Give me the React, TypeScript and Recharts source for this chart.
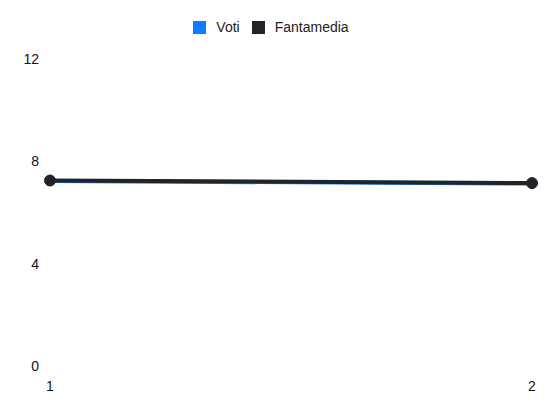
import React from 'react';
import { LineChart, Line, XAxis, YAxis, Legend } from 'recharts';

const giornate = ['1', '2'];
const voti = [7.23, 7.13];
const fantamedia = [7.25, 7.15];
const yTicks = [0, 4, 8, 12];
const series = [
	{ key: 'voti', name: 'Voti', color: '#0a7cff' },
	{ key: 'fantamedia', name: 'Fantamedia', color: '#212529' },
];

const data = giornate.map((g, i) => ({ giornata: g, voti: voti[i], fantamedia: fantamedia[i] }));

function LegendContent() {
	return (
		<div style={{ display: 'flex', justifyContent: 'center', gap: 12, fontSize: 14, color: '#222' }}>
			{series.map((s) => (
				<div key={s.key} style={{ display: 'flex', alignItems: 'center' }}>
					<span style={{ width: 13, height: 13, background: s.color, display: 'inline-block', marginRight: 10 }} />
					<span>{s.name}</span>
				</div>
			))}
		</div>
	);
}

export default function App() {
	return (
		<div style={{ position: 'absolute', top: 0, left: 0, fontFamily: '"Liberation Sans", Arial, sans-serif' }}>
			<LineChart width={550} height={412} data={data} margin={{ top: 43, right: 18, bottom: 16, left: 10 }}>
				<Legend verticalAlign="top" content={<LegendContent />} wrapperStyle={{ top: 19 }} />
				<XAxis
					dataKey="giornata"
					axisLine={false}
					tickLine={false}
					tickMargin={9}
					tick={{ fill: '#111', fontSize: 14 }}
					height={30}
				/>
				<YAxis
					domain={[0, 12]}
					ticks={yTicks}
					axisLine={false}
					tickLine={false}
					tickMargin={5}
					tick={{ fill: '#111', fontSize: 14 }}
					width={40}
				/>
				{series.map((s) => (
					<Line
						key={s.key}
						dataKey={s.key}
						name={s.name}
						stroke={s.color}
						strokeWidth={4}
						dot={s.key === 'fantamedia' ? { r: 5.5, fill: s.color, stroke: s.color, strokeWidth: 1 } : false}
						isAnimationActive={false}
					/>
				))}
			</LineChart>
		</div>
	);
}
